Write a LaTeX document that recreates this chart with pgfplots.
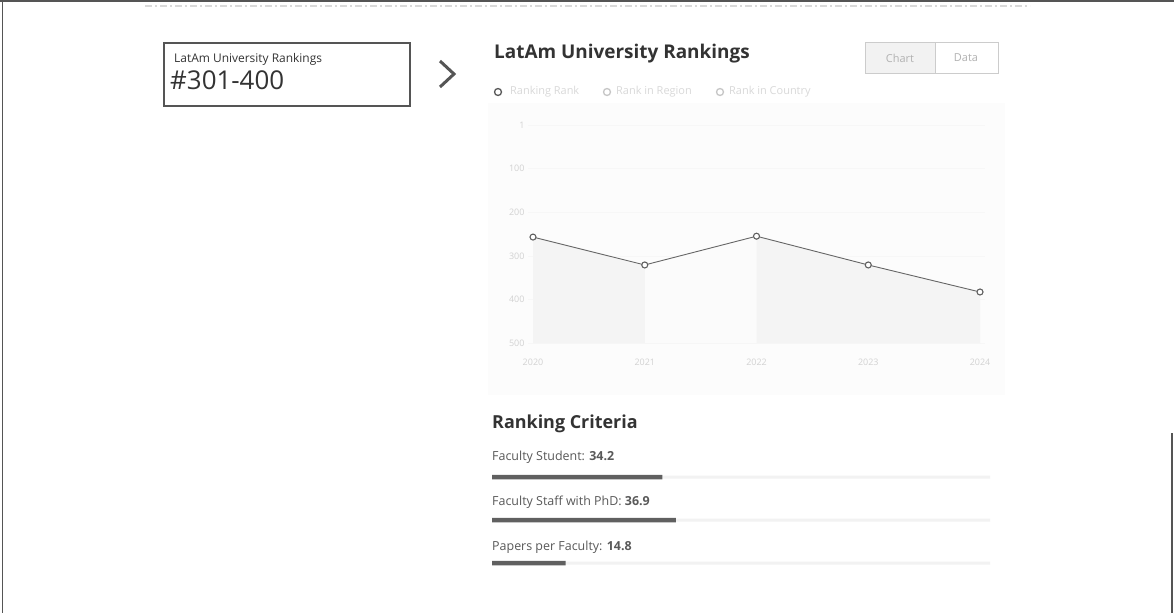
\documentclass[border=0pt]{standalone}
\usepackage{fontspec}
\setmainfont{Open Sans}
\usepackage{pgfplots}
\pgfplotsset{compat=1.18}
\definecolor{txt}{HTML}{333333}
\definecolor{frame}{HTML}{555555}
\begin{document}
\begin{tikzpicture}
\path[use as bounding box, fill=white] (0,0) rectangle (1174bp,-613bp);
% page frame
\draw[line width=1.5bp, frame] (0,-0.75bp) -- (1174bp,-0.75bp);
\draw[line width=1.5bp, frame] (2.5bp,0) -- (2.5bp,-613bp);
\draw[line width=1.5bp, frame] (1172bp,-433bp) -- (1172bp,-613bp);
\draw[gray!30, line width=1.2bp, dash pattern=on 7bp off 3bp on 2bp off 3bp] (145bp,-6bp) -- (1030bp,-6bp);
% chart panel
\fill[gray!2] (488bp,-103bp) rectangle (1005bp,-395bp);
% left box
\draw[line width=2bp, frame] (164bp,-43bp) rectangle (410bp,-106bp);
\node[anchor=base west, inner sep=0, font=\fontsize{12}{14}\selectfont, text=txt] at (174bp,-62bp) {LatAm University Rankings};
\node[anchor=base west, inner sep=0, font=\fontsize{26}{30}\selectfont, text=txt] at (170bp,-89bp) {\#301-400};
\draw[line width=3bp, frame] (440bp,-61bp) -- (454bp,-74bp) -- (440bp,-87bp);
% title
\node[anchor=base west, inner sep=0, font=\bfseries\fontsize{19}{23}\selectfont, text=txt] at (494bp,-58bp) {LatAm University Rankings};
% buttons
\fill[gray!10] (865bp,-42bp) rectangle (935bp,-73bp);
\draw[gray!40, line width=0.8bp] (865bp,-42bp) rectangle (998bp,-73bp);
\draw[gray!40, line width=0.8bp] (935bp,-42bp) -- (935bp,-73bp);
\node[font=\fontsize{11}{13}\selectfont, text=gray!60] at (900bp,-58bp) {Chart};
\node[font=\fontsize{11}{13}\selectfont, text=gray!60] at (966bp,-58bp) {Data};
% legend
\draw[gray!70!black, line width=1.3bp] (498bp,-92bp) circle (3.5bp);
\node[anchor=west, inner sep=0, font=\fontsize{11}{13}\selectfont, text=gray!30] at (510bp,-92bp) {Ranking Rank};
\draw[gray!45, line width=1.3bp] (607bp,-92bp) circle (3.5bp);
\node[anchor=west, inner sep=0, font=\fontsize{11}{13}\selectfont, text=gray!30] at (616bp,-92bp) {Rank in Region};
\draw[gray!45, line width=1.3bp] (720bp,-92bp) circle (3.5bp);
\node[anchor=west, inner sep=0, font=\fontsize{11}{13}\selectfont, text=gray!30] at (729bp,-92bp) {Rank in Country};
% line chart
\begin{axis}[at={(528bp,-343bp)}, anchor=south west, scale only axis,
  width=457bp, height=218bp,
  xmin=-0.0447, xmax=4.0447, ymin=0, ymax=500, y dir=reverse,
  axis line style={draw=none}, tick style={draw=none},
  ytick={0,100,...,500}, yticklabels={1,100,200,300,400,500},
  xtick={0,1,2,3,4}, xticklabels={2020,2021,2022,2023,2024},
  tick label style={font=\fontsize{9}{11}\selectfont, text=gray!35},
  xticklabel style={yshift=-12bp},
  ymajorgrids, grid style={gray!6},
  clip=false]
\addplot[fill=gray!9, draw=none] coordinates {(0,257) (1,321) (2,255) (3,321) (4,383) (4,500) (0,500)} -- cycle;
\addplot[fill=gray!3, draw=none] coordinates {(1,321) (2,255) (2,500) (1,500)} -- cycle;
\addplot[color=gray!80!black, line width=0.9bp, mark=*, mark size=3bp,
  mark options={fill=white, draw=gray!75!black, line width=1.1bp}]
  coordinates {(0,257) (1,321) (2,255) (3,321) (4,383)};
\end{axis}
% ranking criteria
\node[anchor=base west, inner sep=0, font=\bfseries\fontsize{18}{22}\selectfont, text=txt] at (492bp,-428bp) {Ranking Criteria};
\node[anchor=base west, inner sep=0, font=\fontsize{12.5}{15}\selectfont, text=gray!70!black] at (492bp,-460bp) {Faculty Student: \textbf{34.2}};
\node[anchor=base west, inner sep=0, font=\fontsize{12.5}{15}\selectfont, text=gray!70!black] at (492bp,-505bp) {Faculty Staff with PhD: \textbf{36.9}};
\node[anchor=base west, inner sep=0, font=\fontsize{12.5}{15}\selectfont, text=gray!70!black] at (492bp,-550bp) {Papers per Faculty: \textbf{14.8}};
\begin{axis}[at={(492bp,-580bp)}, anchor=south west, scale only axis,
  width=498bp, height=140bp, xmin=0, xmax=100, ymin=440, ymax=580, y dir=reverse,
  hide axis, xbar, clip=false]
\addplot[fill=gray!10, draw=none, bar width=3bp, bar shift=0pt] coordinates {(100,477) (100,520) (100,563)};
\addplot[fill=gray!75!black, draw=none, bar width=4.5bp, bar shift=0pt] coordinates {(34.2,477) (36.9,520) (14.8,563)};
\end{axis}
\end{tikzpicture}
\end{document}
